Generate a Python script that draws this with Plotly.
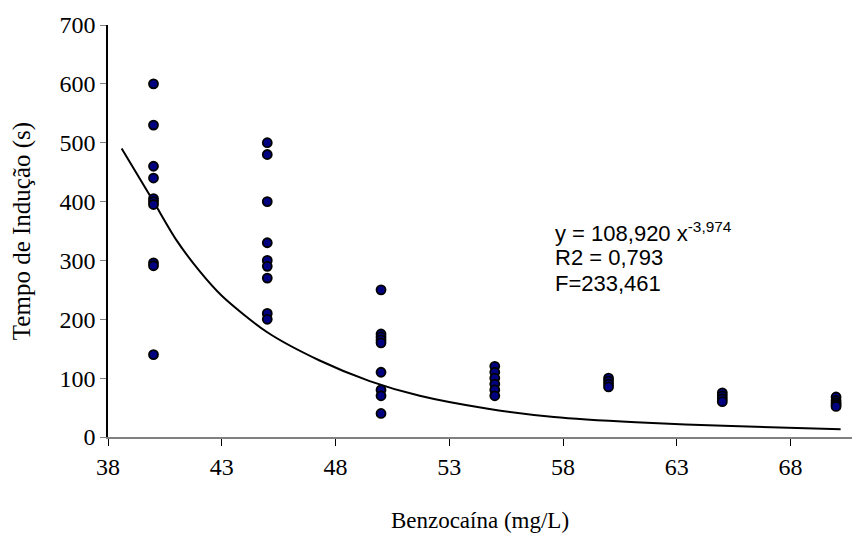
import plotly.graph_objects as go

# Data
doses = [40, 45, 50, 55, 60, 65, 70]
times_40 = [600, 530, 460, 440, 405, 400, 395, 296, 291, 140]
times_45 = [500, 480, 400, 330, 300, 290, 270, 210, 200]
times_50 = [250, 175, 170, 165, 160, 110, 80, 70, 40]
times_55 = [120, 110, 100, 90, 80, 70]
times_60 = [100, 95, 90, 85]
times_65 = [75, 70, 65, 60]
times_70 = [68, 62, 58, 55, 52]

# Fitted curve
curve_x = [38.6, 40.0, 41.0, 42.0, 43.0, 45.0, 47.3, 49.5, 51.7, 54.7, 57.6, 61.2, 65.4, 70.2]
curve_y = [490, 400, 335, 283, 240, 178, 130, 95, 70, 48, 34, 25, 18.5, 13]

x_ticks = [38, 43, 48, 53, 58, 63, 68]
y_ticks = [0, 100, 200, 300, 400, 500, 600, 700]

groups = [times_40, times_45, times_50, times_55, times_60, times_65, times_70]
px, py = [], []
for d, vals in zip(doses, groups):
    for v in vals:
        px.append(d)
        py.append(v)

serif = "Liberation Serif, Times New Roman, serif"
sans = "Liberation Sans, Arial, sans-serif"

fig = go.Figure()
fig.add_trace(go.Scatter(
    x=curve_x, y=curve_y, mode="lines",
    line=dict(color="black", width=2, shape="spline", smoothing=0.8),
    hoverinfo="skip", showlegend=False))
fig.add_trace(go.Scatter(
    x=px, y=py, mode="markers",
    marker=dict(size=9, color="#000080", line=dict(color="black", width=1.8)),
    showlegend=False))

ax = (553 - 108) / 744
fig.update_layout(
    width=868, height=541,
    margin=dict(l=108, r=16, t=24, b=103),
    paper_bgcolor="white", plot_bgcolor="white",
    font=dict(family=serif, color="black", size=24),
    xaxis=dict(
        range=[38, 70.7], tickvals=x_ticks, ticktext=[str(t) for t in x_ticks],
        showgrid=False, zeroline=False, showline=True, linecolor="#808080", linewidth=1.5,
        ticks="outside", ticklen=7, tickcolor="black", tickwidth=1,
        tickfont=dict(family=serif, size=24),
        title=dict(text="Benzocaína (mg/L)", font=dict(family=serif, size=23), standoff=33),
    ),
    yaxis=dict(
        range=[0, 700], tickvals=y_ticks, ticktext=[str(t) for t in y_ticks],
        showgrid=False, zeroline=False, showline=True, linecolor="black", linewidth=1.5,
        ticks="outside", ticklen=6, tickcolor="#808080", tickwidth=1,
        tickfont=dict(family=serif, size=24),
        title=dict(text="Tempo de Indução (s)", font=dict(family=serif, size=25), standoff=22),
    ),
    annotations=[
        dict(xref="paper", yref="paper", x=ax, y=(438 - 232) / 414,
             xanchor="left", yanchor="middle", showarrow=False,
             text="y = 108,920 x<sup>-3,974</sup>", font=dict(family=sans, size=22)),
        dict(xref="paper", yref="paper", x=ax, y=(438 - 258) / 414,
             xanchor="left", yanchor="middle", showarrow=False,
             text="R2 = 0,793", font=dict(family=sans, size=22)),
        dict(xref="paper", yref="paper", x=ax, y=(438 - 284) / 414,
             xanchor="left", yanchor="middle", showarrow=False,
             text="F=233,461", font=dict(family=sans, size=22)),
    ],
)

fig.write_html("out.html")
